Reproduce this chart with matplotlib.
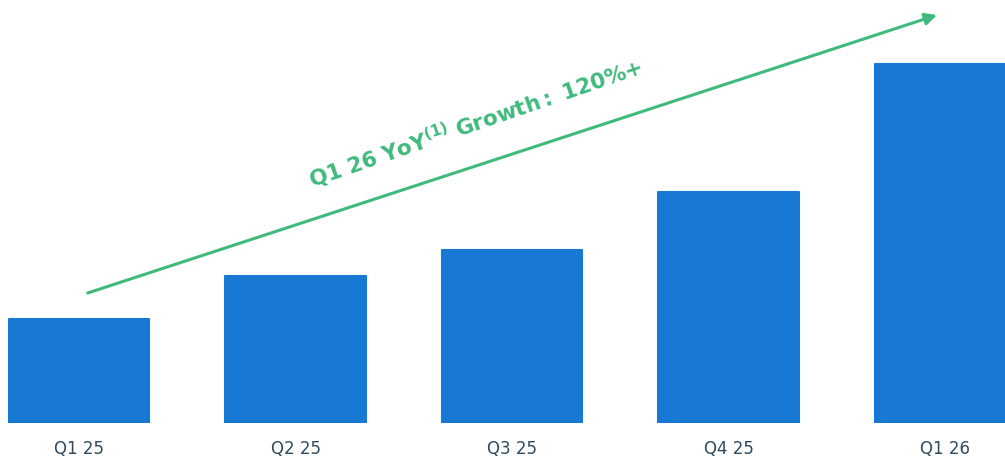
import matplotlib
matplotlib.use("Agg")
import matplotlib.pyplot as plt
import numpy as np

quarters = ["Q1 25", "Q2 25", "Q3 25", "Q4 25", "Q1 26"]
values = [104, 147, 173, 231, 359]

bar_color = "#1779d3"
green = "#3fba7c"
label_color = "#2e4a5e"

fig = plt.figure(figsize=(10.05, 4.62), dpi=100)
ax = fig.add_axes([0, 39 / 462, 1, 1 - 39 / 462])

x = np.arange(len(quarters))
ax.bar(x, values, width=0.65, color=bar_color, edgecolor=bar_color,
       linewidth=1.5, joinstyle="round")

ax.set_xlim(-0.365, 4.277)
ax.set_ylim(0, 423)
ax.set_xticks(x)
ax.set_xticklabels(quarters, fontsize=12, color=label_color)
ax.tick_params(axis="x", length=0, pad=12)
ax.set_yticks([])
for s in ax.spines.values():
    s.set_visible(False)

# growth arrow
ax.annotate("", xy=(3.963, 408), xytext=(0.04, 130),
            arrowprops=dict(arrowstyle="-|>,head_length=0.7,head_width=0.35",
                            color=green, lw=2.2, shrinkA=0, shrinkB=0))
ax.text(1.83, 300, r"$\mathbf{Q1\ 26\ YoY^{(1)}\ Growth{:}\ 120\%{+}}$",
        color=green, fontsize=15.5, rotation=19,
        rotation_mode="anchor", ha="center", va="center")

fig.savefig("out.png", dpi=100)
